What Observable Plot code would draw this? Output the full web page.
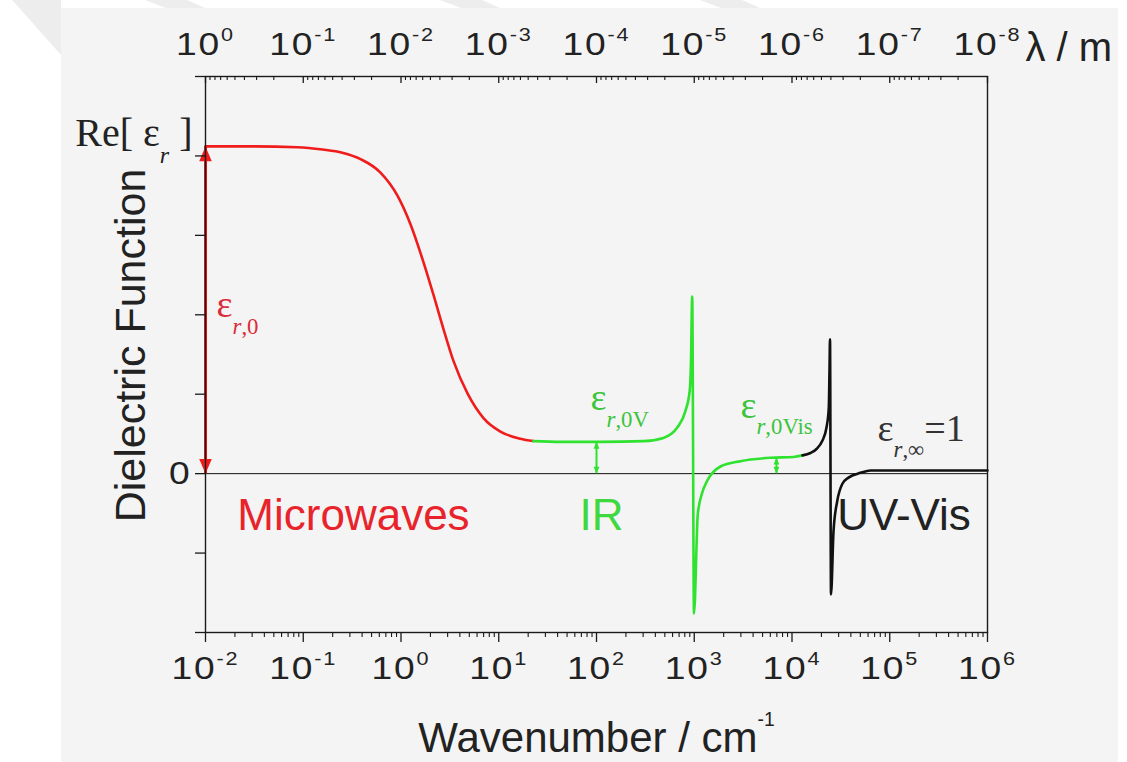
<!DOCTYPE html>
<html>
<head>
<meta charset="utf-8">
<script src="https://cdn.jsdelivr.net/npm/d3@7"></script>
<script src="https://cdn.jsdelivr.net/npm/@observablehq/plot@0.6"></script>
<style>
html, body { margin: 0; padding: 0; background: #ffffff; }
#wrap { position: relative; width: 1127px; height: 762px; overflow: hidden; }
#panel { position: absolute; left: 61px; top: 8px; width: 1057px; height: 754px; background: #f4f4f4; }
.wm { position: absolute; background: #ededed; }
#chart { position: absolute; left: 0; top: 0; }
</style>
</head>
<body>
<div id="wrap">
  <div class="wm" style="left:0;top:0;width:61px;height:55px;clip-path:polygon(20% 0,100% 0,100% 100%);"></div>
  <div class="wm" style="left:145px;top:0;width:60px;height:8px;clip-path:polygon(0 0,70% 0,100% 100%,35% 100%);"></div>
  <div class="wm" style="left:440px;top:0;width:60px;height:8px;clip-path:polygon(0 0,70% 0,100% 100%,35% 100%);"></div>
  <div class="wm" style="left:700px;top:0;width:60px;height:8px;clip-path:polygon(0 0,70% 0,100% 100%,35% 100%);"></div>
  <div id="panel"></div>
  <div id="chart"></div>
</div>
<script>
// ---------- axis tick data ----------
const decadeWavenumbers = [1e-2, 1e-1, 1e0, 1e1, 1e2, 1e3, 1e4, 1e5, 1e6];
const wavenumberExponents = [-2, -1, 0, 1, 2, 3, 4, 5, 6];
const wavelengthExponents = [0, -1, -2, -3, -4, -5, -6, -7, -8];
const minorMultipliers = [2, 3, 4, 5, 6, 7, 8, 9];
const yTickValues = [-2, -1, 0, 1, 2, 3, 4, 5];
const yTickLabels = ["", "", "0", "", "", "", "", ""];

// ---------- curve data (wavenumber in cm^-1, Re[eps_r]) ----------
const microwaveWavenumber = [0.01, 0.0316, 0.087, 0.158, 0.251, 0.386, 0.617, 0.92, 1.25, 1.70, 2.15, 2.72, 3.44, 4.79, 6.98, 10.4, 16.6, 22.6];
const microwaveValue      = [4.12, 4.12, 4.11, 4.08, 4.04, 3.96, 3.79, 3.50, 3.14, 2.66, 2.25, 1.82, 1.42, 1.01, 0.70, 0.53, 0.44, 0.41];

const irWavenumber = [22.6, 42.9, 110, 303, 484, 670, 813, 900, 925, 953, 994, 1087, 1200, 1356, 1857, 2972, 6026, 10350, 12800];
const irValue      = [0.41, 0.40, 0.40, 0.41, 0.45, 0.58, 0.79, 1.05, 1.38, 2.23, -1.76, -0.51, -0.25, -0.09, 0.09, 0.157, 0.20, 0.21, 0.23];

const uvWavenumber = [12800, 15460, 17820, 20370, 22540, 23790, 24210, 24480, 25060, 26600, 28980, 32660, 37840, 50230, 63550, 128800, 1e6];
const uvValue      = [0.23, 0.26, 0.31, 0.41, 0.58, 0.83, 1.33, 1.69, -1.52, -0.72, -0.35, -0.13, -0.05, 0.01, 0.04, 0.04, 0.04];

// ---------- arrows ----------
const arrowWavenumber = [0.01, 100, 6934];
const arrowTop        = [4.12, 0.40, 0.20];
const arrowColor      = ["#f01c1c", "#2fe22f", "#2fe22f"];
const arrowHeadSize   = [5.2, 2.4, 2.4];
const arrowWidth      = [3, 2, 2];

// ---------- text annotations ----------
const regionLabels     = ["Microwaves", "IR", "UV-Vis"];
const regionWavenumber = [0.3266, 112.5, 140000];
const regionValue      = [-0.53, -0.53, -0.53];
const regionColor      = ["#e8232b", "#3fd83f", "#222222"];

const epsLabels     = ["ε_{r,0}", "ε_{r,0V}", "ε_{r,0Vis}", "ε_{r,∞}=1"];
const epsWavenumber = [0.01297, 86.9, 2972, 75000];
const epsValue      = [2.12, 0.95, 0.86, 0.57];
const epsColor      = ["#dc2c3c", "#3cc43c", "#3cc43c", "#333333"];

const yTitle = "Dielectric Function";
const xTitle = "Wavenumber / cm^{-1}";
const topTitle = "λ / m";
const reLabel = "Re[ ε_{r} ]";
const reWavenumber = 0.01;
const reValue = 4.29;

// ---------- derived ----------
const rows = (ks, vs) => ks.map((k, i) => ({k, v: vs[i]}));
const microwaveRows = rows(microwaveWavenumber, microwaveValue);
const irRows = rows(irWavenumber, irValue);
const uvRows = rows(uvWavenumber, uvValue);
const arrows = arrowWavenumber.map((k, i) => ({k, top: arrowTop[i], bottom: 0, color: arrowColor[i], r: arrowHeadSize[i], w: arrowWidth[i]}));
const regions = regionLabels.map((t, i) => ({t, k: regionWavenumber[i], v: regionValue[i], c: regionColor[i]}));
const epsRows = epsLabels.map((t, i) => ({t, k: epsWavenumber[i], v: epsValue[i], c: epsColor[i]}));
const bottomMinor = decadeWavenumbers.slice(0, -1).flatMap(d => minorMultipliers.map(m => d * m));
const topMinor = decadeWavenumbers.slice(0, -1).flatMap(d => minorMultipliers.map(m => d * 10 / m));

const W = 1127, H = 762, ML = 205, MR = 140, MT = 76, MB = 130;
const FW = W - ML - MR, FH = H - MT - MB;
const axisColor = "#1a1a1a";
const sans = "'Liberation Sans', Arial, sans-serif";
const serif = "'Liberation Serif', 'Times New Roman', serif";

const headUp = {draw(ctx, size) { const s = Math.sqrt(size); const h = 1.6 * s, w = 0.68 * s; ctx.moveTo(0, 0); ctx.lineTo(-w, h); ctx.lineTo(w, h); ctx.closePath(); }};
const headDown = {draw(ctx, size) { const s = Math.sqrt(size); const h = 1.6 * s, w = 0.68 * s; ctx.moveTo(0, 0); ctx.lineTo(-w, -h); ctx.lineTo(w, -h); ctx.closePath(); }};

const chart = Plot.plot({
  width: W, height: H,
  marginLeft: ML, marginRight: MR, marginTop: MT, marginBottom: MB,
  x: {type: "log", domain: [0.01, 1e6], axis: null},
  y: {domain: [-2, 5], axis: null},
  r: {type: "identity"},
  style: {background: "transparent", fontFamily: sans, overflow: "visible"},
  marks: [
    Plot.ruleY([0], {stroke: "#111", strokeWidth: 1}),
    Plot.line(microwaveRows, {x: "k", y: "v", stroke: "#f01c1c", strokeWidth: 2.6, curve: "monotone-x"}),
    Plot.line(irRows, {x: "k", y: "v", stroke: "#2fe22f", strokeWidth: 2.6, curve: "monotone-x"}),
    Plot.line(uvRows, {x: "k", y: "v", stroke: "#111", strokeWidth: 2.6, curve: "monotone-x"}),
    Plot.ruleX(arrows, {x: "k", y1: "bottom", y2: "top", stroke: "color", strokeWidth: "w"}),
    Plot.dot(arrows, {x: "k", y: "top", r: "r", symbol: headUp, fill: "color", stroke: null}),
    Plot.dot(arrows, {x: "k", y: "bottom", r: "r", symbol: headDown, fill: "color", stroke: null}),
    Plot.frame({stroke: axisColor, strokeWidth: 1.4}),
    // bottom ticks (outward)
    Plot.tickX(decadeWavenumbers, {x: d => d, insetTop: FH, insetBottom: -10, stroke: axisColor, strokeWidth: 1.3}),
    Plot.tickX(bottomMinor, {x: d => d, insetTop: FH, insetBottom: -5, stroke: axisColor, strokeWidth: 1.1}),
    // top ticks (inward)
    Plot.tickX(decadeWavenumbers, {x: d => d, insetBottom: FH - 7, stroke: axisColor, strokeWidth: 1.3}),
    Plot.tickX(topMinor, {x: d => d, insetBottom: FH - 4, stroke: axisColor, strokeWidth: 1.1}),
    // left ticks (outward)
    Plot.tickY(yTickValues, {y: d => d, insetLeft: -10, insetRight: FW, stroke: axisColor, strokeWidth: 1.3}),
    // tick labels
    Plot.text(decadeWavenumbers, {x: d => d, text: (d, i) => `10^{${wavenumberExponents[i]}}`, frameAnchor: "bottom", lineAnchor: "middle", dy: 37, fontSize: 31, fill: "#222"}),
    Plot.text(decadeWavenumbers, {x: d => d, text: (d, i) => `10^{${wavelengthExponents[i]}}`, frameAnchor: "top", lineAnchor: "middle", dy: -31, fontSize: 31, fill: "#222"}),
    Plot.text(yTickValues, {y: d => d, text: (d, i) => yTickLabels[i], frameAnchor: "left", lineAnchor: "middle", dx: -14, textAnchor: "end", fontSize: 31, fill: "#222"}),
    // titles
    Plot.text([xTitle], {text: d => d, frameAnchor: "bottom", lineAnchor: "middle", textAnchor: "middle", dy: 106, fontSize: 42, fill: "#222"}),
    Plot.text([yTitle], {text: d => d, frameAnchor: "left", lineAnchor: "middle", textAnchor: "middle", rotate: -90, dx: -74, dy: -9, fontSize: 43, fill: "#222"}),
    Plot.text([topTitle], {text: d => d, frameAnchor: "top-right", lineAnchor: "middle", textAnchor: "start", dx: 38, dy: -28, fontSize: 40, fill: "#222"}),
    Plot.text([{t: reLabel, k: reWavenumber, v: reValue}], {x: "k", y: "v", text: "t", lineAnchor: "middle", textAnchor: "end", dx: -13, fontSize: 40, fontFamily: serif, fill: "#222"}),
    // annotations
    Plot.text(regions, {x: "k", y: "v", text: "t", fill: "c", lineAnchor: "middle", fontSize: 44}),
    Plot.text(epsRows, {x: "k", y: "v", text: "t", fill: "c", lineAnchor: "middle", textAnchor: "start", fontSize: 38, fontFamily: serif})
  ]
});

document.getElementById("chart").appendChild(chart);

// ---------- rich text: superscripts / subscripts ----------
const NS = "http://www.w3.org/2000/svg";
const tickTexts = [];
chart.querySelectorAll("text").forEach(t => {
  const s = t.textContent;
  if (/^10\^\{/.test(s) || s === "0") tickTexts.push(t);
});
chart.querySelectorAll("text").forEach(t => {
  const s = t.textContent;
  if (!/[\^_]\{/.test(s)) return;
  const fs = parseFloat(getComputedStyle(t).fontSize);
  const cfg = /^10\^/.test(s) ? {supSize: 0.58, supShift: 0.48}
            : s.includes("cm^") ? {supSize: 0.46, supShift: 0.62}
            : {subSize: 0.6, subShift: 0.44};
  const parts = [];
  const re = /([\^_])\{([^}]*)\}/g;
  let last = 0, m;
  while ((m = re.exec(s))) {
    if (m.index > last) parts.push({type: "n", text: s.slice(last, m.index)});
    parts.push({type: m[1] === "^" ? "sup" : "sub", text: m[2]});
    last = re.lastIndex;
  }
  if (last < s.length) parts.push({type: "n", text: s.slice(last)});
  while (t.firstChild) t.removeChild(t.firstChild);
  let offset = 0;
  for (const p of parts) {
    const ts = document.createElementNS(NS, "tspan");
    let target = 0;
    if (p.type === "sup") { target = -cfg.supShift * fs; ts.setAttribute("font-size", (cfg.supSize * fs).toFixed(1)); }
    if (p.type === "sub") { target = cfg.subShift * fs; ts.setAttribute("font-size", (cfg.subSize * fs).toFixed(1)); }
    const d = target - offset;
    if (d) ts.setAttribute("dy", d.toFixed(1));
    offset = target;
    if (p.type === "sub" && p.text.startsWith("r")) {
      const it = document.createElementNS(NS, "tspan");
      it.setAttribute("font-style", "italic");
      it.textContent = "r";
      ts.appendChild(it);
      ts.appendChild(document.createTextNode(p.text.slice(1)));
    } else {
      ts.textContent = p.text;
    }
    t.appendChild(ts);
  }
});
// Origin-style wide tick numerals
tickTexts.forEach(t => {
  const tr = t.getAttribute("transform");
  if (tr) t.setAttribute("transform", tr + " scale(1.2,1)");
  t.style.letterSpacing = "1.5px";
});
</script>
</body>
</html>
